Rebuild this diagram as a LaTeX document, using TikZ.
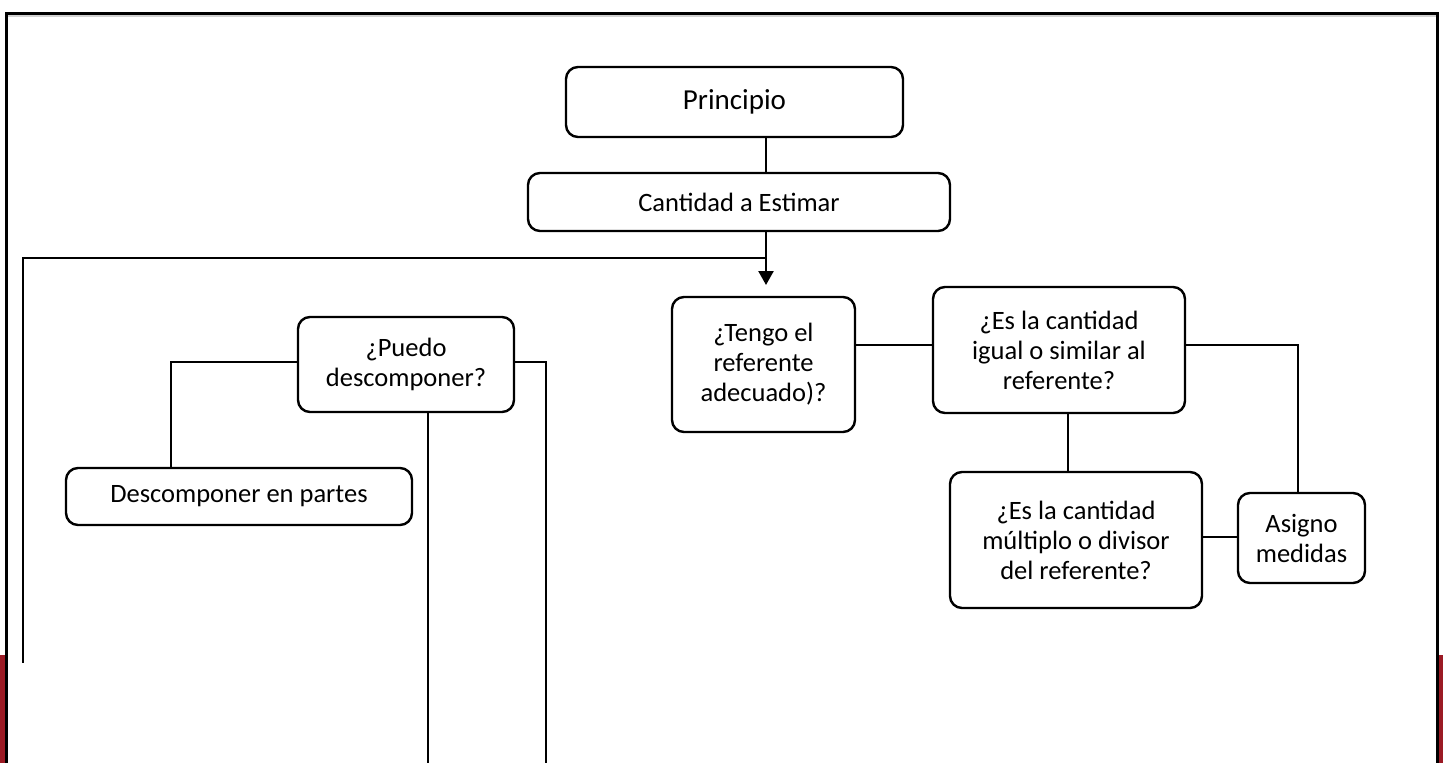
\documentclass[tikz,border=0pt]{standalone}
\usepackage{fontspec}
\setmainfont{Carlito}
\usetikzlibrary{arrows.meta}
\definecolor{bandred}{RGB}{155,26,36}
\begin{document}
\begin{tikzpicture}[x=1pt,y=-1pt,
  box/.style={draw, line width=2.4pt, rounded corners=12pt, align=center,
    inner sep=0pt, font=\fontsize{26.5}{30}\selectfont},
  link/.style={line width=2.4pt},
  arrowlink/.style={line width=2.4pt, -{Triangle[width=15pt,length=14pt]}}]
\useasboundingbox (0,0) rectangle (1443,763);
\fill[white] (0,0) rectangle (1443,763);

% coloured side bands and outer frame
\fill[bandred] (0,655) rectangle (5,763);
\fill[bandred] (1439,655) rectangle (1443,763);
\draw[gray!35, line width=1.5pt] (8,15.8) -- (1436,15.8);
\draw[line width=3pt] (6,763) -- (6,13) -- (1437.5,13) -- (1437.5,763);

% boxes
\node[box, minimum width=337pt, minimum height=70pt, font=\fontsize{29}{32}\selectfont]
  (ppio) at (734.5,102) {Principio};
\node[box, minimum width=422pt, minimum height=58pt] (cant) at (739,202) {Cantidad a Estimar};
\node[box, minimum width=183pt, minimum height=135pt] (tengo) at (763.5,364.5)
  {¿Tengo el\\referente\\adecuado)?};
\node[box, minimum width=252pt, minimum height=126pt] (igual) at (1059,350)
  {¿Es la cantidad\\igual o similar al\\referente?};
\node[box, minimum width=252pt, minimum height=136pt] (mult) at (1076,540)
  {¿Es la cantidad\\múltiplo o divisor\\del referente?};
\node[box, minimum width=127pt, minimum height=90pt] (asig) at (1301.5,538)
  {Asigno\\medidas};
\node[box, minimum width=216pt, minimum height=95pt] (puedo) at (406,364.5)
  {¿Puedo\\descomponer?};
\node[box, minimum width=346pt, minimum height=57pt] (desc) at (239,496.5)
  {Descomponer en partes};

% guide coordinates for the connectors
\coordinate (xmain) at (766,0);
\coordinate (tip) at (766,285);
\coordinate (corner) at (23,258);
\coordinate (leftend) at (23,663);
\coordinate (yref) at (0,345);
\coordinate (xasig) at (1298,0);
\coordinate (xmult) at (1068,0);
\coordinate (ymult) at (0,537);
\coordinate (ypuedo) at (0,362);
\coordinate (xdesc) at (171,0);
\coordinate (rightend) at (546,763);
\coordinate (midend) at (428,763);

% connectors
\draw[link] (ppio.south -| xmain) -- (cant.north -| xmain);
\draw[arrowlink] (cant.south -| xmain) -- (tip);
\draw[link] (corner -| xmain) -- (corner) -- (leftend);
\draw[link] (tengo.east |- yref) -- (igual.west |- yref);
\draw[link] (igual.east |- yref) -| (asig.north -| xasig);
\draw[link] (igual.south -| xmult) -- (mult.north -| xmult);
\draw[link] (mult.east |- ymult) -- (asig.west |- ymult);
\draw[link] (puedo.west |- ypuedo) -| (desc.north -| xdesc);
\draw[link] (puedo.east |- ypuedo) -| (rightend);
\draw[link] (puedo.south -| midend) -- (midend);
\end{tikzpicture}
\end{document}
